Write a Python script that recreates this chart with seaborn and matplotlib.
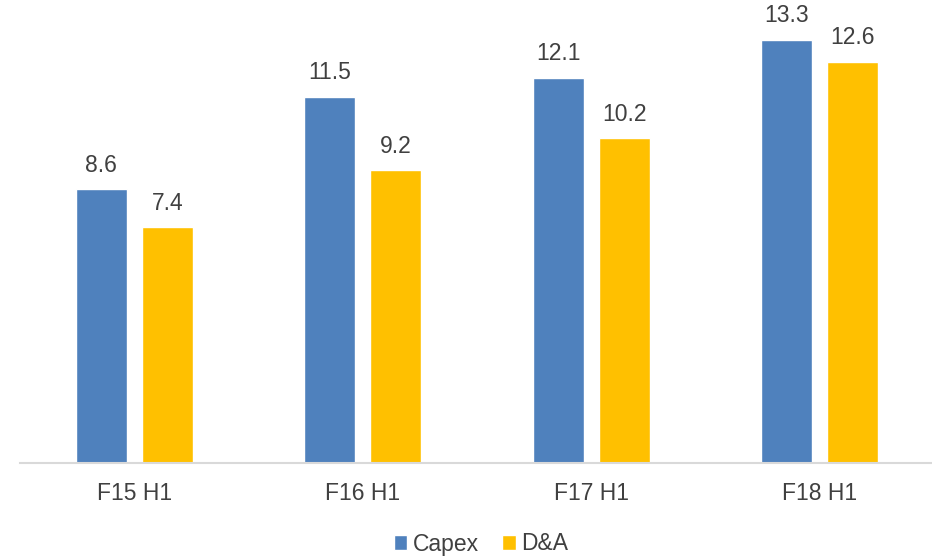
import matplotlib
matplotlib.use("Agg")
import matplotlib.pyplot as plt
import seaborn as sns
import pandas as pd

categories = ["F15 H1", "F16 H1", "F17 H1", "F18 H1"]
capex = [8.6, 11.5, 12.1, 13.3]
da = [7.4, 9.2, 10.2, 12.6]
series_names = ["Capex", "D&A"]
colors = ["#4F81BD", "#FFC000"]

df = pd.DataFrame({
    "cat": categories * 2,
    "series": [series_names[0]] * len(categories) + [series_names[1]] * len(categories),
    "value": capex + da,
})

sns.set_theme(style="white")
plt.rcParams["font.family"] = ["Liberation Sans", "DejaVu Sans"]
text_color = "#404040"

fig = plt.figure(figsize=(9.32, 5.58), dpi=100)
ax = fig.add_axes([20 / 932, 95 / 558, 914 / 932, 442.4 / 558])

sns.barplot(data=df, x="cat", y="value", hue="series", palette=colors,
            width=0.578, gap=0.228, ax=ax, saturation=1, errorbar=None,
            legend=True)

for cont in ax.containers:
    ax.bar_label(cont, fmt="%.1f", padding=9, fontsize=16.5, color=text_color)

ax.set_ylim(0, 13.9)
ax.set_xlim(-0.5, 3.5)
ax.set_xlabel("")
ax.set_ylabel("")
ax.set_yticks([])
for s in ["top", "right", "left"]:
    ax.spines[s].set_visible(False)
ax.spines["bottom"].set_color("#D9D9D9")
ax.spines["bottom"].set_linewidth(1.5)
ax.tick_params(axis="x", length=0, pad=14, labelsize=16.5, labelcolor=text_color)

handles, labels = ax.get_legend_handles_labels()
ax.legend(handles, labels, loc="center", bbox_to_anchor=(481 / 932, (558 - 544) / 558),
          bbox_transform=fig.transFigure, ncol=2, frameon=False,
          fontsize=16.5, labelcolor=text_color, handlelength=0.6, handleheight=0.6,
          handletextpad=0.25, columnspacing=1.0, borderaxespad=0)

fig.savefig("out.png", dpi=100)
